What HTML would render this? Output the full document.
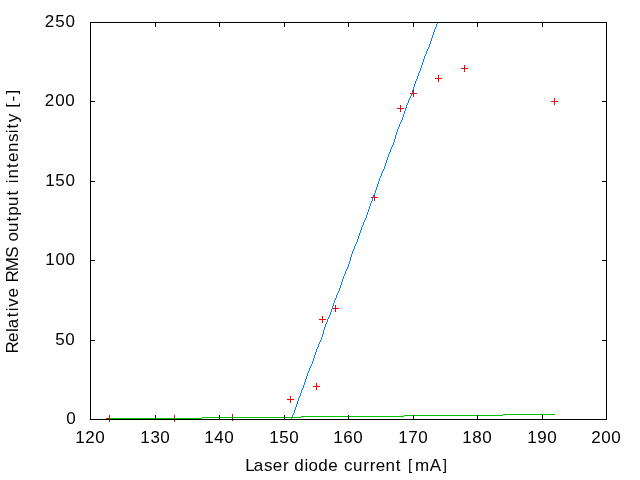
<!DOCTYPE html>
<html><head><meta charset="utf-8"><style>
html,body{margin:0;padding:0;background:#fff;}
svg{display:block;position:absolute;left:0;top:0;}
.t{will-change:transform;}
text{font-family:"Liberation Sans", sans-serif;font-size:17px;fill:#000;font-kerning:none;}
</style></head><body>
<svg width="640" height="480" viewBox="0 0 640 480" shape-rendering="crispEdges">
<rect x="0" y="0" width="640" height="480" fill="#fff"/>
<rect x="106" y="418" width="7" height="1" fill="#ff0000"/>
<rect x="109" y="415" width="1" height="7" fill="#ff0000"/>
<rect x="171" y="418" width="7" height="1" fill="#ff0000"/>
<rect x="174" y="415" width="1" height="7" fill="#ff0000"/>
<rect x="229" y="417" width="7" height="1" fill="#ff0000"/>
<rect x="232" y="414" width="1" height="7" fill="#ff0000"/>
<rect x="287" y="399" width="7" height="1" fill="#ff0000"/>
<rect x="290" y="396" width="1" height="7" fill="#ff0000"/>
<rect x="313" y="386" width="7" height="1" fill="#ff0000"/>
<rect x="316" y="383" width="1" height="7" fill="#ff0000"/>
<rect x="319" y="319" width="7" height="1" fill="#ff0000"/>
<rect x="322" y="316" width="1" height="7" fill="#ff0000"/>
<rect x="332" y="308" width="7" height="1" fill="#ff0000"/>
<rect x="335" y="305" width="1" height="7" fill="#ff0000"/>
<rect x="371" y="197" width="7" height="1" fill="#ff0000"/>
<rect x="374" y="194" width="1" height="7" fill="#ff0000"/>
<rect x="397" y="108" width="7" height="1" fill="#ff0000"/>
<rect x="400" y="105" width="1" height="7" fill="#ff0000"/>
<rect x="410" y="93" width="7" height="1" fill="#ff0000"/>
<rect x="413" y="90" width="1" height="7" fill="#ff0000"/>
<rect x="435" y="78" width="7" height="1" fill="#ff0000"/>
<rect x="438" y="75" width="1" height="7" fill="#ff0000"/>
<rect x="461" y="68" width="7" height="1" fill="#ff0000"/>
<rect x="464" y="65" width="1" height="7" fill="#ff0000"/>
<rect x="551" y="101" width="7" height="1" fill="#ff0000"/>
<rect x="554" y="98" width="1" height="7" fill="#ff0000"/>
<rect x="109" y="418" width="93" height="1" fill="#00c000"/>
<rect x="202" y="417" width="99" height="1" fill="#00c000"/>
<rect x="301" y="416" width="103" height="1" fill="#00c000"/>
<rect x="404" y="415" width="99" height="1" fill="#00c000"/>
<rect x="503" y="414" width="52" height="1" fill="#00c000"/>
<rect x="291" y="418" width="1" height="2" fill="#0080ff"/>
<rect x="292" y="415" width="1" height="3" fill="#0080ff"/>
<rect x="293" y="413" width="1" height="2" fill="#0080ff"/>
<rect x="294" y="410" width="1" height="3" fill="#0080ff"/>
<rect x="295" y="407" width="1" height="3" fill="#0080ff"/>
<rect x="296" y="404" width="1" height="3" fill="#0080ff"/>
<rect x="297" y="401" width="1" height="3" fill="#0080ff"/>
<rect x="298" y="398" width="1" height="3" fill="#0080ff"/>
<rect x="299" y="396" width="1" height="2" fill="#0080ff"/>
<rect x="300" y="393" width="1" height="3" fill="#0080ff"/>
<rect x="301" y="390" width="1" height="3" fill="#0080ff"/>
<rect x="302" y="388" width="1" height="2" fill="#0080ff"/>
<rect x="303" y="385" width="1" height="3" fill="#0080ff"/>
<rect x="304" y="382" width="1" height="3" fill="#0080ff"/>
<rect x="305" y="379" width="1" height="3" fill="#0080ff"/>
<rect x="306" y="376" width="1" height="3" fill="#0080ff"/>
<rect x="307" y="373" width="1" height="3" fill="#0080ff"/>
<rect x="308" y="371" width="1" height="2" fill="#0080ff"/>
<rect x="309" y="368" width="1" height="3" fill="#0080ff"/>
<rect x="310" y="366" width="1" height="2" fill="#0080ff"/>
<rect x="311" y="364" width="1" height="2" fill="#0080ff"/>
<rect x="312" y="361" width="1" height="3" fill="#0080ff"/>
<rect x="313" y="358" width="1" height="3" fill="#0080ff"/>
<rect x="314" y="355" width="1" height="3" fill="#0080ff"/>
<rect x="315" y="352" width="1" height="3" fill="#0080ff"/>
<rect x="316" y="349" width="1" height="3" fill="#0080ff"/>
<rect x="317" y="347" width="1" height="2" fill="#0080ff"/>
<rect x="318" y="344" width="1" height="3" fill="#0080ff"/>
<rect x="319" y="342" width="1" height="2" fill="#0080ff"/>
<rect x="320" y="340" width="1" height="2" fill="#0080ff"/>
<rect x="321" y="337" width="1" height="3" fill="#0080ff"/>
<rect x="322" y="334" width="1" height="3" fill="#0080ff"/>
<rect x="323" y="330" width="1" height="4" fill="#0080ff"/>
<rect x="324" y="327" width="1" height="3" fill="#0080ff"/>
<rect x="325" y="324" width="1" height="3" fill="#0080ff"/>
<rect x="326" y="322" width="1" height="2" fill="#0080ff"/>
<rect x="327" y="319" width="1" height="3" fill="#0080ff"/>
<rect x="328" y="317" width="1" height="2" fill="#0080ff"/>
<rect x="329" y="315" width="1" height="2" fill="#0080ff"/>
<rect x="330" y="312" width="1" height="3" fill="#0080ff"/>
<rect x="331" y="309" width="1" height="3" fill="#0080ff"/>
<rect x="332" y="306" width="1" height="3" fill="#0080ff"/>
<rect x="333" y="303" width="1" height="3" fill="#0080ff"/>
<rect x="334" y="300" width="1" height="3" fill="#0080ff"/>
<rect x="335" y="298" width="1" height="2" fill="#0080ff"/>
<rect x="336" y="295" width="1" height="3" fill="#0080ff"/>
<rect x="337" y="293" width="1" height="2" fill="#0080ff"/>
<rect x="338" y="291" width="1" height="2" fill="#0080ff"/>
<rect x="339" y="288" width="1" height="3" fill="#0080ff"/>
<rect x="340" y="285" width="1" height="3" fill="#0080ff"/>
<rect x="341" y="282" width="1" height="3" fill="#0080ff"/>
<rect x="342" y="279" width="1" height="3" fill="#0080ff"/>
<rect x="343" y="276" width="1" height="3" fill="#0080ff"/>
<rect x="344" y="274" width="1" height="2" fill="#0080ff"/>
<rect x="345" y="271" width="1" height="3" fill="#0080ff"/>
<rect x="346" y="269" width="1" height="2" fill="#0080ff"/>
<rect x="347" y="267" width="1" height="2" fill="#0080ff"/>
<rect x="348" y="264" width="1" height="3" fill="#0080ff"/>
<rect x="349" y="261" width="1" height="3" fill="#0080ff"/>
<rect x="350" y="257" width="1" height="4" fill="#0080ff"/>
<rect x="351" y="254" width="1" height="3" fill="#0080ff"/>
<rect x="352" y="251" width="1" height="3" fill="#0080ff"/>
<rect x="353" y="249" width="1" height="2" fill="#0080ff"/>
<rect x="354" y="246" width="1" height="3" fill="#0080ff"/>
<rect x="355" y="244" width="1" height="2" fill="#0080ff"/>
<rect x="356" y="242" width="1" height="2" fill="#0080ff"/>
<rect x="357" y="239" width="1" height="3" fill="#0080ff"/>
<rect x="358" y="236" width="1" height="3" fill="#0080ff"/>
<rect x="359" y="233" width="1" height="3" fill="#0080ff"/>
<rect x="360" y="230" width="1" height="3" fill="#0080ff"/>
<rect x="361" y="227" width="1" height="3" fill="#0080ff"/>
<rect x="362" y="225" width="1" height="2" fill="#0080ff"/>
<rect x="363" y="222" width="1" height="3" fill="#0080ff"/>
<rect x="364" y="220" width="1" height="2" fill="#0080ff"/>
<rect x="365" y="218" width="1" height="2" fill="#0080ff"/>
<rect x="366" y="215" width="1" height="3" fill="#0080ff"/>
<rect x="367" y="212" width="1" height="3" fill="#0080ff"/>
<rect x="368" y="209" width="1" height="3" fill="#0080ff"/>
<rect x="369" y="206" width="1" height="3" fill="#0080ff"/>
<rect x="370" y="203" width="1" height="3" fill="#0080ff"/>
<rect x="371" y="201" width="1" height="2" fill="#0080ff"/>
<rect x="372" y="198" width="1" height="3" fill="#0080ff"/>
<rect x="373" y="195" width="1" height="3" fill="#0080ff"/>
<rect x="374" y="193" width="1" height="2" fill="#0080ff"/>
<rect x="375" y="190" width="1" height="3" fill="#0080ff"/>
<rect x="376" y="187" width="1" height="3" fill="#0080ff"/>
<rect x="377" y="184" width="1" height="3" fill="#0080ff"/>
<rect x="378" y="181" width="1" height="3" fill="#0080ff"/>
<rect x="379" y="178" width="1" height="3" fill="#0080ff"/>
<rect x="380" y="176" width="1" height="2" fill="#0080ff"/>
<rect x="381" y="173" width="1" height="3" fill="#0080ff"/>
<rect x="382" y="171" width="1" height="2" fill="#0080ff"/>
<rect x="383" y="169" width="1" height="2" fill="#0080ff"/>
<rect x="384" y="166" width="1" height="3" fill="#0080ff"/>
<rect x="385" y="163" width="1" height="3" fill="#0080ff"/>
<rect x="386" y="160" width="1" height="3" fill="#0080ff"/>
<rect x="387" y="157" width="1" height="3" fill="#0080ff"/>
<rect x="388" y="154" width="1" height="3" fill="#0080ff"/>
<rect x="389" y="152" width="1" height="2" fill="#0080ff"/>
<rect x="390" y="149" width="1" height="3" fill="#0080ff"/>
<rect x="391" y="147" width="1" height="2" fill="#0080ff"/>
<rect x="392" y="145" width="1" height="2" fill="#0080ff"/>
<rect x="393" y="142" width="1" height="3" fill="#0080ff"/>
<rect x="394" y="139" width="1" height="3" fill="#0080ff"/>
<rect x="395" y="135" width="1" height="4" fill="#0080ff"/>
<rect x="396" y="132" width="1" height="3" fill="#0080ff"/>
<rect x="397" y="129" width="1" height="3" fill="#0080ff"/>
<rect x="398" y="127" width="1" height="2" fill="#0080ff"/>
<rect x="399" y="124" width="1" height="3" fill="#0080ff"/>
<rect x="400" y="122" width="1" height="2" fill="#0080ff"/>
<rect x="401" y="120" width="1" height="2" fill="#0080ff"/>
<rect x="402" y="117" width="1" height="3" fill="#0080ff"/>
<rect x="403" y="114" width="1" height="3" fill="#0080ff"/>
<rect x="404" y="111" width="1" height="3" fill="#0080ff"/>
<rect x="405" y="108" width="1" height="3" fill="#0080ff"/>
<rect x="406" y="105" width="1" height="3" fill="#0080ff"/>
<rect x="407" y="103" width="1" height="2" fill="#0080ff"/>
<rect x="408" y="100" width="1" height="3" fill="#0080ff"/>
<rect x="409" y="98" width="1" height="2" fill="#0080ff"/>
<rect x="410" y="96" width="1" height="2" fill="#0080ff"/>
<rect x="411" y="93" width="1" height="3" fill="#0080ff"/>
<rect x="412" y="90" width="1" height="3" fill="#0080ff"/>
<rect x="413" y="87" width="1" height="3" fill="#0080ff"/>
<rect x="414" y="84" width="1" height="3" fill="#0080ff"/>
<rect x="415" y="81" width="1" height="3" fill="#0080ff"/>
<rect x="416" y="79" width="1" height="2" fill="#0080ff"/>
<rect x="417" y="76" width="1" height="3" fill="#0080ff"/>
<rect x="418" y="73" width="1" height="3" fill="#0080ff"/>
<rect x="419" y="71" width="1" height="2" fill="#0080ff"/>
<rect x="420" y="68" width="1" height="3" fill="#0080ff"/>
<rect x="421" y="65" width="1" height="3" fill="#0080ff"/>
<rect x="422" y="62" width="1" height="3" fill="#0080ff"/>
<rect x="423" y="59" width="1" height="3" fill="#0080ff"/>
<rect x="424" y="56" width="1" height="3" fill="#0080ff"/>
<rect x="425" y="54" width="1" height="2" fill="#0080ff"/>
<rect x="426" y="51" width="1" height="3" fill="#0080ff"/>
<rect x="427" y="49" width="1" height="2" fill="#0080ff"/>
<rect x="428" y="47" width="1" height="2" fill="#0080ff"/>
<rect x="429" y="44" width="1" height="3" fill="#0080ff"/>
<rect x="430" y="41" width="1" height="3" fill="#0080ff"/>
<rect x="431" y="38" width="1" height="3" fill="#0080ff"/>
<rect x="432" y="35" width="1" height="3" fill="#0080ff"/>
<rect x="433" y="32" width="1" height="3" fill="#0080ff"/>
<rect x="434" y="29" width="1" height="3" fill="#0080ff"/>
<rect x="435" y="27" width="1" height="2" fill="#0080ff"/>
<rect x="436" y="24" width="1" height="3" fill="#0080ff"/>
<rect x="437" y="22" width="1" height="2" fill="#0080ff"/>
<rect x="90" y="22" width="517" height="1" fill="#000"/>
<rect x="90" y="419" width="517" height="1" fill="#000"/>
<rect x="90" y="22" width="1" height="398" fill="#000"/>
<rect x="606" y="22" width="1" height="398" fill="#000"/>
<rect x="155" y="23" width="1" height="4" fill="#000"/>
<rect x="155" y="415" width="1" height="4" fill="#000"/>
<rect x="219" y="23" width="1" height="4" fill="#000"/>
<rect x="219" y="415" width="1" height="4" fill="#000"/>
<rect x="284" y="23" width="1" height="4" fill="#000"/>
<rect x="284" y="415" width="1" height="4" fill="#000"/>
<rect x="348" y="23" width="1" height="4" fill="#000"/>
<rect x="348" y="415" width="1" height="4" fill="#000"/>
<rect x="413" y="23" width="1" height="4" fill="#000"/>
<rect x="413" y="415" width="1" height="4" fill="#000"/>
<rect x="477" y="23" width="1" height="4" fill="#000"/>
<rect x="477" y="415" width="1" height="4" fill="#000"/>
<rect x="542" y="23" width="1" height="4" fill="#000"/>
<rect x="542" y="415" width="1" height="4" fill="#000"/>
<rect x="91" y="101" width="4" height="1" fill="#000"/>
<rect x="602" y="101" width="4" height="1" fill="#000"/>
<rect x="91" y="181" width="4" height="1" fill="#000"/>
<rect x="602" y="181" width="4" height="1" fill="#000"/>
<rect x="91" y="260" width="4" height="1" fill="#000"/>
<rect x="602" y="260" width="4" height="1" fill="#000"/>
<rect x="91" y="340" width="4" height="1" fill="#000"/>
<rect x="602" y="340" width="4" height="1" fill="#000"/>
</svg>
<svg class="t" width="640" height="480" viewBox="0 0 640 480">
<text x="66.22" y="424">0</text>
<text x="55.13 65.37" y="345">50</text>
<text x="45.27 55.39 65.43" y="265">100</text>
<text x="45.27 55.33 65.43" y="186">150</text>
<text x="44.75 55.16 65.36" y="106">200</text>
<text x="44.80 55.15 65.41" y="27">250</text>
<text x="75.27 85.15 95.36" y="443">120</text>
<text x="140.27 150.38 160.36" y="443">130</text>
<text x="204.27 214.36 224.36" y="443">140</text>
<text x="269.27 279.30 289.36" y="443">150</text>
<text x="333.27 343.36 353.36" y="443">160</text>
<text x="398.27 408.33 418.36" y="443">170</text>
<text x="462.27 472.36 482.36" y="443">180</text>
<text x="527.27 537.31 547.36" y="443">190</text>
<text x="591.15 601.36 611.36" y="443">200</text>
<text x="245.35 253.80 264.10 272.67 283.07" y="470.7">Laser</text>
<text x="294.23 304.38 308.57 318.33 328.33" y="470.7">diode</text>
<text x="343.91 352.88 363.30 369.75 375.65 385.45 395.79" y="470.7">current</text>
<text x="408.08 414.88 429.78 442.67" y="469.63 470.7 470.7 469.63"><tspan style="font-size:15.3px">[</tspan>mA<tspan style="font-size:15.3px">]</tspan></text>
<text transform="translate(17.9,0) rotate(-90)" x="-353.59 -341.90 -331.93 -328.24 -317.25 -311.36 -306.75 -297.52" y="0">Relative</text>
<text transform="translate(17.9,0) rotate(-90)" x="-282.59 -271.29 -257.78" y="0">RMS</text>
<text transform="translate(17.9,0) rotate(-90)" x="-241.60 -231.88 -221.50 -215.69 -205.89 -195.50" y="0">output</text>
<text transform="translate(17.9,0) rotate(-90)" x="-183.16 -178.58 -167.98 -162.11 -151.99 -142.07 -133.34 -128.44 -122.32" y="0">intensity</text>
<text transform="translate(17.9,0) rotate(-90)" x="-107.46 -101.58 -94.30" y="-1.07 0 -1.07"><tspan style="font-size:15.3px">[</tspan>-<tspan style="font-size:15.3px">]</tspan></text>
</svg>
</body></html>
